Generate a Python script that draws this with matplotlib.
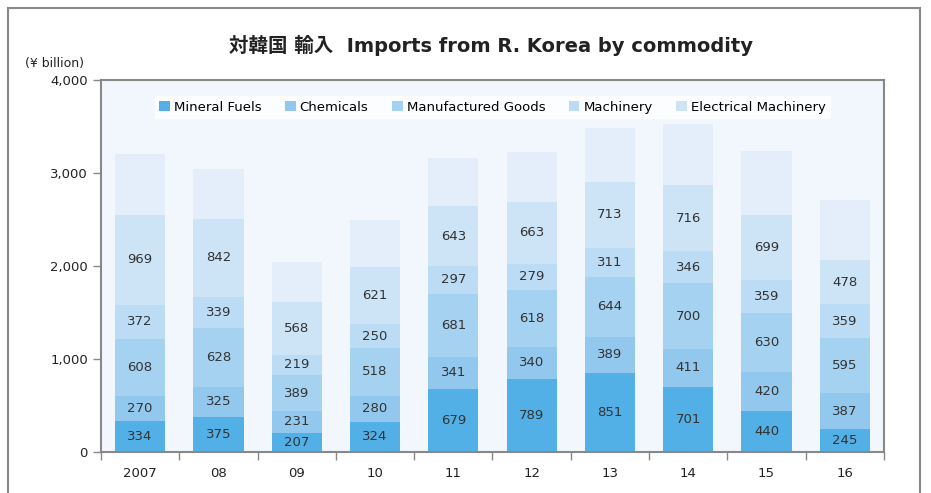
import numpy as np
import matplotlib.pyplot as plt
from matplotlib.patches import Rectangle

plt.rcParams['font.family'] = ['DejaVu Sans', 'Noto Sans CJK JP']

# データ (¥ billion)
years = ["2007", "08", "09", "10", "11", "12", "13", "14", "15", "16"]
mineral_fuels = [334, 375, 207, 324, 679, 789, 851, 701, 440, 245]
chemicals = [270, 325, 231, 280, 341, 340, 389, 411, 420, 387]
manufactured = [608, 628, 389, 518, 681, 618, 644, 700, 630, 595]
machinery = [372, 339, 219, 250, 297, 279, 311, 346, 359, 359]
electrical = [969, 842, 568, 621, 643, 663, 713, 716, 699, 478]
others = [651, 534, 429, 502, 520, 537, 576, 653, 689, 646]

series = [
    ("Mineral Fuels", mineral_fuels, "#52b0e6", True),
    ("Chemicals", chemicals, "#92c8ee", True),
    ("Manufactured Goods", manufactured, "#a5d2f1", True),
    ("Machinery", machinery, "#bcdcf5", True),
    ("Electrical Machinery", electrical, "#cde3f6", True),
    ("Others", others, "#e3eefa", False),
]

fig = plt.figure(figsize=(9.31, 4.93), dpi=100)
ax = fig.add_axes([0.1085, 0.0832, 0.841, 0.7545])
ax.set_facecolor("#f2f6fd")

x = np.arange(len(years))
bottom = np.zeros(len(years))
handles = []
for name, vals, color, labelled in series:
    vals = np.array(vals)
    bars = ax.bar(x, vals, bottom=bottom, width=0.64, color=color, linewidth=0)
    if labelled:
        handles.append(bars)
        for xi, b, v in zip(x, bottom, vals):
            ax.text(xi, b + v / 2, f"{v}", ha="center", va="center",
                    fontsize=9.5, color="#333333")
    bottom += vals

ax.set_xlim(-0.5, len(years) - 0.5)
ax.set_ylim(0, 4000)
ax.set_yticks([0, 1000, 2000, 3000, 4000])
ax.set_yticklabels(["0", "1,000", "2,000", "3,000", "4,000"])
ax.set_xticks(x)
ax.set_xticklabels(years)
ax.set_xticks(np.arange(len(years) + 1) - 0.5, minor=True)
ax.tick_params(axis="x", which="major", length=0, pad=11, labelsize=9.5, colors="#222222")
ax.tick_params(axis="x", which="minor", length=6, color="#888888", width=1)
ax.tick_params(axis="y", length=6, color="#888888", width=1, labelsize=9.5, colors="#222222")

for s in ["top", "right", "left", "bottom"]:
    ax.spines[s].set_color("#888888")
    ax.spines[s].set_linewidth(1.5)

leg = ax.legend(handles, [s[0] for s in series[:5]], ncol=5, loc="upper center",
                bbox_to_anchor=(0.5, 0.975), frameon=True, fancybox=False,
                fontsize=9.5, handlelength=0.8, handleheight=0.8,
                handletextpad=0.3, columnspacing=1.8, borderpad=0.35)
leg.get_frame().set_facecolor("white")
leg.get_frame().set_edgecolor("white")

fig.text(0.527, 0.907, "対韓国 輸入  Imports from R. Korea by commodity",
         ha="center", va="center", fontsize=14, fontweight="bold", color="#222222")
fig.text(0.027, 0.872, "(¥ billion)", ha="left", va="center", fontsize=9, color="#222222")

# 外枠
fig.patches.append(Rectangle((8 / 931, -0.05), 912 / 931, 1.05 - 8 / 493,
                             transform=fig.transFigure, fill=False,
                             edgecolor="#888888", linewidth=1.5))

fig.savefig("out.png", dpi=100)
